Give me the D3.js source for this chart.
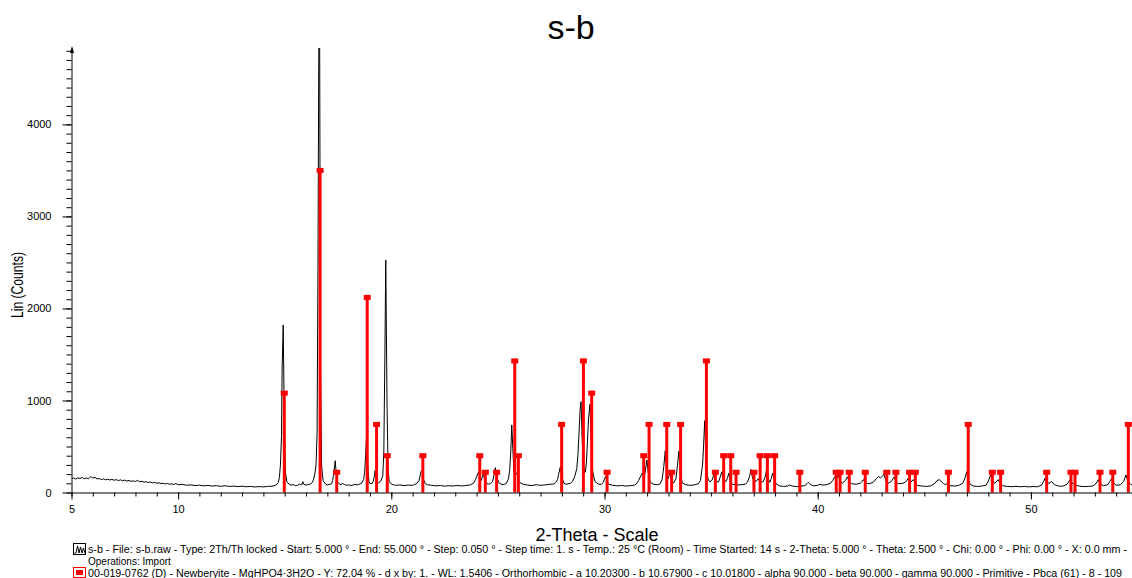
<!DOCTYPE html>
<html>
<head>
<meta charset="utf-8">
<script src="https://cdn.jsdelivr.net/npm/d3@7"></script>
<style>
  body { margin: 0; background: #fff; }
  text { font-family: "Liberation Sans", Arial, sans-serif; }
</style>
</head>
<body>
<div id="chart"></div>
<script>
// measured scan: [2-theta, counts]
var scanPoints = [
  [5.0,150],[5.1,158],[5.2,146],[5.3,160],[5.4,152],[5.5,163],[5.6,149],[5.7,157],[5.8,150],[5.9,172],
  [6.0,158],[6.1,165],[6.2,147],[6.3,152],[6.4,141],[6.5,148],[6.6,138],[6.7,145],[6.8,136],[6.9,142],
  [7.0,133],[7.1,140],[7.2,130],[7.3,137],[7.4,128],[7.5,135],[7.6,124],[7.7,131],[7.8,121],[7.9,127],
  [8.0,119],[8.1,132],[8.2,117],[8.3,122],[8.4,112],[8.5,118],[8.6,107],[8.7,114],[8.8,104],[8.9,111],
  [9.0,100],[9.1,106],[9.2,97],[9.3,101],[9.4,92],[9.5,99],[9.6,89],[9.7,95],[9.8,86],[9.9,98],
  [10.0,84],[10.2,88],[10.4,79],[10.6,83],[10.8,75],[11.0,80],[11.2,72],[11.4,77],[11.6,70],[11.8,74],
  [12.0,67],[12.2,73],[12.4,66],[12.6,70],[12.8,64],[13.0,69],[13.2,62],[13.4,66],[13.6,60],[13.8,64],
  [14.0,61],[14.2,66],[14.4,68],[14.5,74],[14.6,82],[14.7,110],[14.75,160],[14.8,300],[14.85,620],[14.88,1350],
  [14.93,1820],[14.98,820],[15.03,230],[15.1,120],[15.2,90],[15.3,80],[15.4,86],[15.5,74],[15.6,78],[15.7,92],
  [15.8,84],[15.85,118],[15.9,88],[16.0,80],[16.1,86],[16.2,92],[16.3,110],[16.35,140],[16.42,210],[16.47,300],
  [16.52,650],[16.56,2400],[16.6,4900],[16.64,4880],[16.68,1300],[16.73,300],[16.8,130],[16.9,95],[17.0,82],[17.1,88],
  [17.2,95],[17.25,130],[17.3,210],[17.37,346],[17.42,200],[17.47,120],[17.55,95],[17.65,84],[17.7,100],[17.75,92],
  [17.8,86],[17.9,78],[18.0,84],[18.1,76],[18.2,80],[18.3,88],[18.4,82],[18.5,90],[18.6,100],[18.7,140],
  [18.75,220],[18.8,420],[18.85,672],[18.9,280],[18.95,120],[19.0,95],[19.1,98],[19.15,120],[19.2,170],[19.24,237],
  [19.3,150],[19.35,110],[19.4,105],[19.5,120],[19.6,180],[19.65,450],[19.7,1500],[19.74,2527],[19.8,950],[19.85,260],
  [19.9,120],[20.0,92],[20.1,84],[20.2,78],[20.4,82],[20.6,75],[20.8,80],[21.0,78],[21.1,88],[21.2,98],
  [21.3,130],[21.35,180],[21.4,230],[21.45,245],[21.5,150],[21.6,95],[21.7,84],[21.9,78],[22.1,72],[22.3,76],
  [22.5,69],[22.7,74],[22.9,70],[23.1,77],[23.3,71],[23.5,76],[23.7,82],[23.85,100],[23.95,140],[24.03,190],
  [24.1,226],[24.17,150],[24.22,130],[24.27,170],[24.32,209],[24.38,130],[24.45,100],[24.55,92],[24.65,95],[24.75,120],
  [24.82,190],[24.88,270],[24.95,160],[25.05,105],[25.15,90],[25.25,86],[25.3,88],[25.4,100],[25.5,150],[25.55,240],
  [25.6,420],[25.65,734],[25.7,480],[25.75,230],[25.8,170],[25.85,200],[25.9,215],[25.95,140],[26.05,105],[26.2,88],
  [26.4,80],[26.6,76],[26.8,84],[27.0,78],[27.2,82],[27.4,88],[27.6,92],[27.7,105],[27.8,140],[27.85,200],
  [27.93,280],[28.0,160],[28.1,100],[28.2,90],[28.4,100],[28.5,120],[28.6,170],[28.7,260],[28.75,400],[28.8,620],
  [28.85,880],[28.9,987],[28.95,600],[29.0,300],[29.05,210],[29.1,220],[29.15,320],[29.2,550],[29.25,800],[29.32,960],
  [29.38,500],[29.45,220],[29.55,120],[29.7,92],[29.85,88],[29.95,110],[30.0,150],[30.06,180],[30.12,120],[30.2,90],
  [30.4,78],[30.6,72],[30.8,76],[31.0,70],[31.2,74],[31.4,80],[31.5,95],[31.6,130],[31.7,180],[31.77,210],
  [31.85,170],[31.9,210],[31.99,353],[32.05,220],[32.15,110],[32.3,90],[32.5,84],[32.6,92],[32.7,140],[32.78,280],
  [32.85,455],[32.92,230],[32.98,150],[33.07,210],[33.13,130],[33.25,105],[33.35,150],[33.42,290],[33.49,450],[33.56,200],
  [33.65,105],[33.8,85],[34.0,78],[34.2,82],[34.4,95],[34.5,130],[34.6,300],[34.65,520],[34.7,780],[34.76,380],
  [34.85,150],[34.95,115],[35.05,140],[35.14,200],[35.22,120],[35.35,115],[35.43,170],[35.5,225],[35.57,130],[35.7,120],
  [35.77,160],[35.83,210],[35.9,120],[36.0,90],[36.2,82],[36.4,84],[36.6,90],[36.7,110],[36.8,170],[36.87,250],
  [36.95,150],[37.05,120],[37.15,130],[37.21,150],[37.3,110],[37.45,120],[37.55,180],[37.61,265],[37.68,150],[37.75,110],
  [37.82,150],[37.89,210],[37.95,150],[38.05,95],[38.2,72],[38.4,66],[38.6,70],[38.67,82],[38.8,70],[39.0,64],
  [39.2,68],[39.4,75],[39.5,95],[39.56,110],[39.65,88],[39.8,72],[40.0,78],[40.11,90],[40.2,80],[40.4,84],
  [40.6,100],[40.7,130],[40.81,172],[40.88,150],[40.97,190],[41.05,120],[41.15,100],[41.3,130],[41.39,170],[41.5,115],
  [41.6,95],[41.8,90],[42.0,100],[42.08,120],[42.14,140],[42.25,100],[42.4,95],[42.6,110],[42.75,150],[42.84,172],
  [42.95,160],[43.05,180],[43.11,200],[43.2,120],[43.3,100],[43.45,120],[43.59,170],[43.68,110],[43.8,95],[44.0,100],
  [44.15,120],[44.25,155],[44.35,110],[44.48,140],[44.58,100],[44.7,75],[44.9,70],[45.1,66],[45.3,72],[45.5,100],
  [45.6,130],[45.7,140],[45.8,120],[45.9,95],[46.0,85],[46.08,100],[46.2,75],[46.4,70],[46.6,75],[46.8,100],
  [46.9,150],[46.99,226],[47.05,150],[47.15,90],[47.3,70],[47.5,66],[47.7,70],[47.9,80],[48.0,120],[48.11,190],
  [48.2,130],[48.3,100],[48.47,140],[48.55,95],[48.7,72],[48.9,66],[49.1,63],[49.3,67],[49.5,62],[49.7,66],
  [49.9,61],[50.1,65],[50.3,62],[50.5,80],[50.6,120],[50.66,155],[50.75,110],[50.85,100],[50.98,120],[51.1,85],
  [51.3,70],[51.5,68],[51.7,90],[51.84,140],[51.95,100],[52.1,80],[52.3,68],[52.5,64],[52.7,66],[52.9,70],
  [53.05,95],[53.16,140],[53.25,95],[53.4,72],[53.6,85],[53.7,120],[53.79,155],[53.9,100],[54.0,78],[54.2,84],
  [54.35,120],[54.46,190],[54.55,120],[54.7,85],[54.9,75],[55.0,78]
];

// reference pattern 00-019-0762 Newberyite
var stickPositions = [14.98, 16.66, 17.44, 18.87, 19.31, 19.81, 21.48, 24.15, 24.41, 24.94,
  25.79, 25.96, 27.99, 29.01, 29.40, 30.12, 31.84, 32.09, 32.92, 33.15,
  33.57, 34.78, 35.20, 35.59, 35.92, 36.17, 37.01, 37.30, 37.64, 37.98,
  39.16, 40.87, 41.05, 41.48, 42.23, 43.24, 43.67, 44.31, 44.58, 46.13,
  47.06, 48.19, 48.58, 50.74, 51.88, 52.07, 53.24, 53.84, 54.57];
var stickHeights = [1080, 3500, 220, 2120, 740, 400, 400, 400, 220, 220,
  1430, 400, 740, 1430, 1080, 220, 400, 740, 740, 220,
  740, 1430, 220, 400, 400, 220, 220, 400, 400, 400,
  220, 220, 220, 220, 220, 220, 220, 220, 220, 220,
  740, 220, 220, 220, 220, 220, 220, 220, 740];

var xTickLabels = [5, 10, 20, 30, 40, 50];
var yTickLabels = [0, 1000, 2000, 3000, 4000];

var titleText = "s-b";
var xTitle = "2-Theta - Scale";
var yTitle = "Lin (Counts)";
var legendLines = [
  "s-b - File: s-b.raw - Type: 2Th/Th locked - Start: 5.000 \u00b0 - End: 55.000 \u00b0 - Step: 0.050 \u00b0 - Step time: 1. s - Temp.: 25 \u00b0C (Room) - Time Started: 14 s - 2-Theta: 5.000 \u00b0 - Theta: 2.500 \u00b0 - Chi: 0.00 \u00b0 - Phi: 0.00 \u00b0 - X: 0.0 mm -",
  "Operations: Import",
  "00-019-0762 (D) - Newberyite - MgHPO4\u00b73H2O - Y: 72.04 % - d x by: 1. - WL: 1.5406 - Orthorhombic - a 10.20300 - b 10.67900 - c 10.01800 - alpha 90.000 - beta 90.000 - gamma 90.000 - Primitive - Pbca (61) - 8 - 109"
];

var w = 1132, h = 578;

var svg = d3.select("#chart").append("svg")
    .attr("width", w)
    .attr("height", h);

svg.append("rect").attr("width", w).attr("height", h).attr("fill", "#fff");

var x = d3.scaleLinear().domain([5, 55]).range([71.5, 1137.5]),
    y = d3.scaleLinear().domain([0, 4830]).range([492.5, 48]);

svg.append("clipPath").attr("id", "plot")
  .append("rect")
    .attr("x", 72).attr("y", 48)
    .attr("width", 1070).attr("height", 445);

var plot = svg.append("g").attr("clip-path", "url(#plot)");

// scan line
var line = d3.line()
    .x(function (d) { return x(d[0]); })
    .y(function (d) { return y(d[1]); });

plot.append("path")
    .datum(scanPoints)
    .attr("fill", "none")
    .attr("stroke", "#000")
    .attr("stroke-width", 1)
    .attr("d", line);

// reference sticks with square caps
var sticks = stickPositions.map(function (p, i) { return { pos: p, val: stickHeights[i] }; });

plot.selectAll(".stick")
    .data(sticks)
    .enter().append("rect")
    .attr("class", "stick")
    .attr("x", function (d) { return x(d.pos) - 1.5; })
    .attr("y", function (d) { return y(d.val); })
    .attr("width", 3)
    .attr("height", function (d) { return y(0) - y(d.val); })
    .attr("fill", "#ff0000");

plot.selectAll(".cap")
    .data(sticks)
    .enter().append("rect")
    .attr("class", "cap")
    .attr("x", function (d) { return x(d.pos) - 3.5; })
    .attr("y", function (d) { return y(d.val) - 2.5; })
    .attr("width", 7)
    .attr("height", 5)
    .attr("fill", "#ff0000");

// x axis: minor, then labelled
var xMinor = svg.append("g")
    .attr("transform", "translate(0," + 492.5 + ")")
    .call(d3.axisBottom(x).tickValues(d3.range(5, 56, 1)).tickSize(4).tickSizeOuter(0).tickFormat(""));
xMinor.select(".domain").remove();

var xAxis = svg.append("g")
    .attr("transform", "translate(0," + 492.5 + ")")
    .call(d3.axisBottom(x).tickValues(xTickLabels).tickSize(7).tickSizeOuter(0).tickPadding(6));

// y axis
var yMinor = svg.append("g")
    .attr("transform", "translate(71.5,0)")
    .call(d3.axisLeft(y).tickValues(d3.range(0, 4900, 100)).tickSize(5).tickSizeOuter(0).tickFormat(""));
yMinor.select(".domain").remove();

var yAxis = svg.append("g")
    .attr("transform", "translate(71.5,0)")
    .call(d3.axisLeft(y).tickValues(yTickLabels).tickSize(9).tickSizeOuter(0).tickPadding(11)
      .tickFormat(d3.format("d")));

svg.selectAll(".tick text")
    .attr("font-family", "Liberation Sans, Arial, sans-serif")
    .attr("font-size", 11)
    .attr("fill", "#000");
svg.selectAll(".domain, .tick line").attr("stroke", "#000");

// little arrow at top of y axis
svg.append("path")
    .attr("d", "M70,53 L72,46 L74,53 Z")
    .attr("fill", "#000");

// titles
svg.append("text")
    .attr("x", 571).attr("y", 39)
    .attr("text-anchor", "middle")
    .attr("font-size", 34)
    .text(titleText);

svg.append("text")
    .attr("x", 597).attr("y", 541)
    .attr("text-anchor", "middle")
    .attr("font-size", 18)
    .text(xTitle);

svg.append("text")
    .attr("transform", "translate(23,285) rotate(-90)")
    .attr("text-anchor", "middle")
    .attr("font-size", 16)
    .attr("textLength", 66)
    .attr("lengthAdjust", "spacingAndGlyphs")
    .text(yTitle);

// legend
var legendY = [552.5, 564.5, 576.5];
legendLines.forEach(function (t, i) {
  var tx = svg.append("text")
      .attr("x", 88).attr("y", legendY[i])
      .attr("font-size", 10)
      .text(t);
  if (i === 0) tx.attr("textLength", 1039).attr("lengthAdjust", "spacingAndGlyphs");
  if (i === 2) tx.attr("textLength", 1034).attr("lengthAdjust", "spacingAndGlyphs");
});

// legend icons
svg.append("rect")
    .attr("x", 73.5).attr("y", 543.5).attr("width", 12).attr("height", 11)
    .attr("fill", "none").attr("stroke", "#000");
svg.append("path")
    .attr("d", "M74.5,553 L76,553 L77.5,546 L79,553 L80.5,547 L82,553 L83.5,548 L85,553")
    .attr("fill", "none").attr("stroke", "#000");

svg.append("rect")
    .attr("x", 73.5).attr("y", 567.5).attr("width", 12).attr("height", 10)
    .attr("fill", "none").attr("stroke", "#ff0000");
svg.append("rect")
    .attr("x", 76).attr("y", 570).attr("width", 7).attr("height", 5)
    .attr("fill", "#ff0000");
</script>
</body>
</html>
